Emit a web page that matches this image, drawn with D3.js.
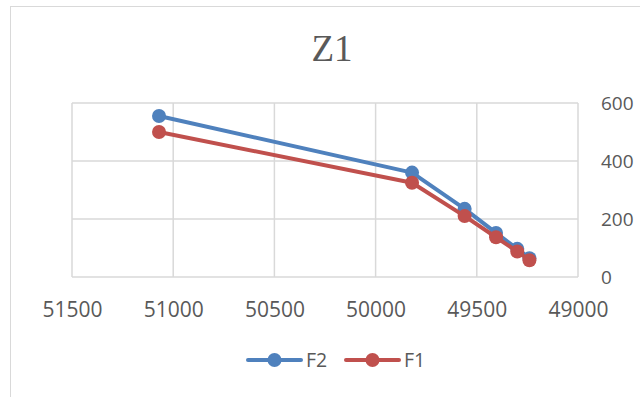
<!DOCTYPE html>
<html>
<head>
<meta charset="utf-8">
<script src="https://cdn.jsdelivr.net/npm/d3@7"></script>
<style>
  html, body { margin: 0; padding: 0; background: #fff; }
  svg { display: block; }
  text { font-family: "Open Sans", "Liberation Sans", sans-serif; fill: #595959; }
</style>
</head>
<body>
<svg id="chart" width="640" height="397"></svg>
<script>
// Series data
const xValues = [51070, 49820, 49560, 49405, 49300, 49240];
const f2Values = [555, 360, 235, 152, 97, 65];
const f1Values = [500, 325, 210, 137, 88, 58];
const xTicks = [51500, 51000, 50500, 50000, 49500, 49000];
const yTicks = [0, 200, 400, 600];
const seriesNames = ["F2", "F1"];
const seriesColors = ["#4F81BD", "#C0504D"];

const svg = d3.select("#chart");
const W = 640, H = 397;
const plot = { left: 72, right: 578, top: 103, bottom: 277 };

// Chart frame
svg.append("rect")
  .attr("x", 10.5).attr("y", 6.5)
  .attr("width", W).attr("height", H)
  .attr("fill", "#fff").attr("stroke", "#d9d9d9").attr("stroke-width", 1);

// Reversed x scale: larger values on the left
const x = d3.scaleLinear().domain([51500, 49000]).range([plot.left, plot.right]);
const y = d3.scaleLinear().domain([0, 600]).range([plot.bottom, plot.top]);

// Gridlines
const grid = svg.append("g").attr("stroke", "#d9d9d9").attr("stroke-width", 1.5);
grid.selectAll("line.h").data(yTicks).join("line")
  .attr("x1", plot.left).attr("x2", plot.right)
  .attr("y1", d => y(d)).attr("y2", d => y(d));
grid.selectAll("line.v").data(xTicks).join("line")
  .attr("x1", d => x(d)).attr("x2", d => x(d))
  .attr("y1", plot.top).attr("y2", plot.bottom);

// Axes (labels only)
const xAxis = svg.append("g")
  .attr("transform", `translate(0,${plot.bottom + 25})`)
  .call(d3.axisBottom(x).tickValues(xTicks).tickSize(0).tickPadding(0).tickFormat(d3.format("d")));
xAxis.select(".domain").remove();
xAxis.selectAll("text").attr("font-size", 21).attr("dy", "0.71em");

const yAxis = svg.append("g")
  .attr("transform", `translate(${plot.right + 23},0)`)
  .call(d3.axisRight(y).tickValues(yTicks).tickSize(0).tickPadding(0).tickFormat(d3.format("d")));
yAxis.select(".domain").remove();
yAxis.selectAll("text").attr("font-size", 19).attr("text-anchor", "start");

// Title
svg.append("text")
  .attr("x", 332).attr("y", 61)
  .attr("text-anchor", "middle")
  .style("font-family", "'Liberation Serif', 'DejaVu Serif', serif")
  .attr("font-size", 37)
  .text("Z1");

// Series lines and markers
const seriesData = [f2Values, f1Values];
const line = d3.line().x(d => x(d[0])).y(d => y(d[1]));
seriesData.forEach((vals, i) => {
  const pts = xValues.map((xv, j) => [xv, vals[j]]);
  const g = svg.append("g");
  g.append("path")
    .datum(pts)
    .attr("d", line)
    .attr("fill", "none")
    .attr("stroke", seriesColors[i])
    .attr("stroke-width", 4)
    .attr("stroke-linejoin", "round");
  g.selectAll("circle").data(pts).join("circle")
    .attr("cx", d => x(d[0])).attr("cy", d => y(d[1]))
    .attr("r", 7)
    .attr("fill", seriesColors[i]);
});

// Legend
const legendItems = [
  { name: seriesNames[0], color: seriesColors[0], x0: 248 },
  { name: seriesNames[1], color: seriesColors[1], x0: 346 }
];
const ly = 360;
legendItems.forEach(it => {
  const g = svg.append("g");
  g.append("line")
    .attr("x1", it.x0).attr("x2", it.x0 + 53)
    .attr("y1", ly).attr("y2", ly)
    .attr("stroke", it.color).attr("stroke-width", 4).attr("stroke-linecap", "round");
  g.append("circle")
    .attr("cx", it.x0 + 26.5).attr("cy", ly).attr("r", 7).attr("fill", it.color);
  g.append("text")
    .attr("x", it.x0 + 58).attr("y", ly)
    .attr("dy", "0.35em")
    .attr("font-size", 19.5)
    .text(it.name);
});
</script>
</body>
</html>
